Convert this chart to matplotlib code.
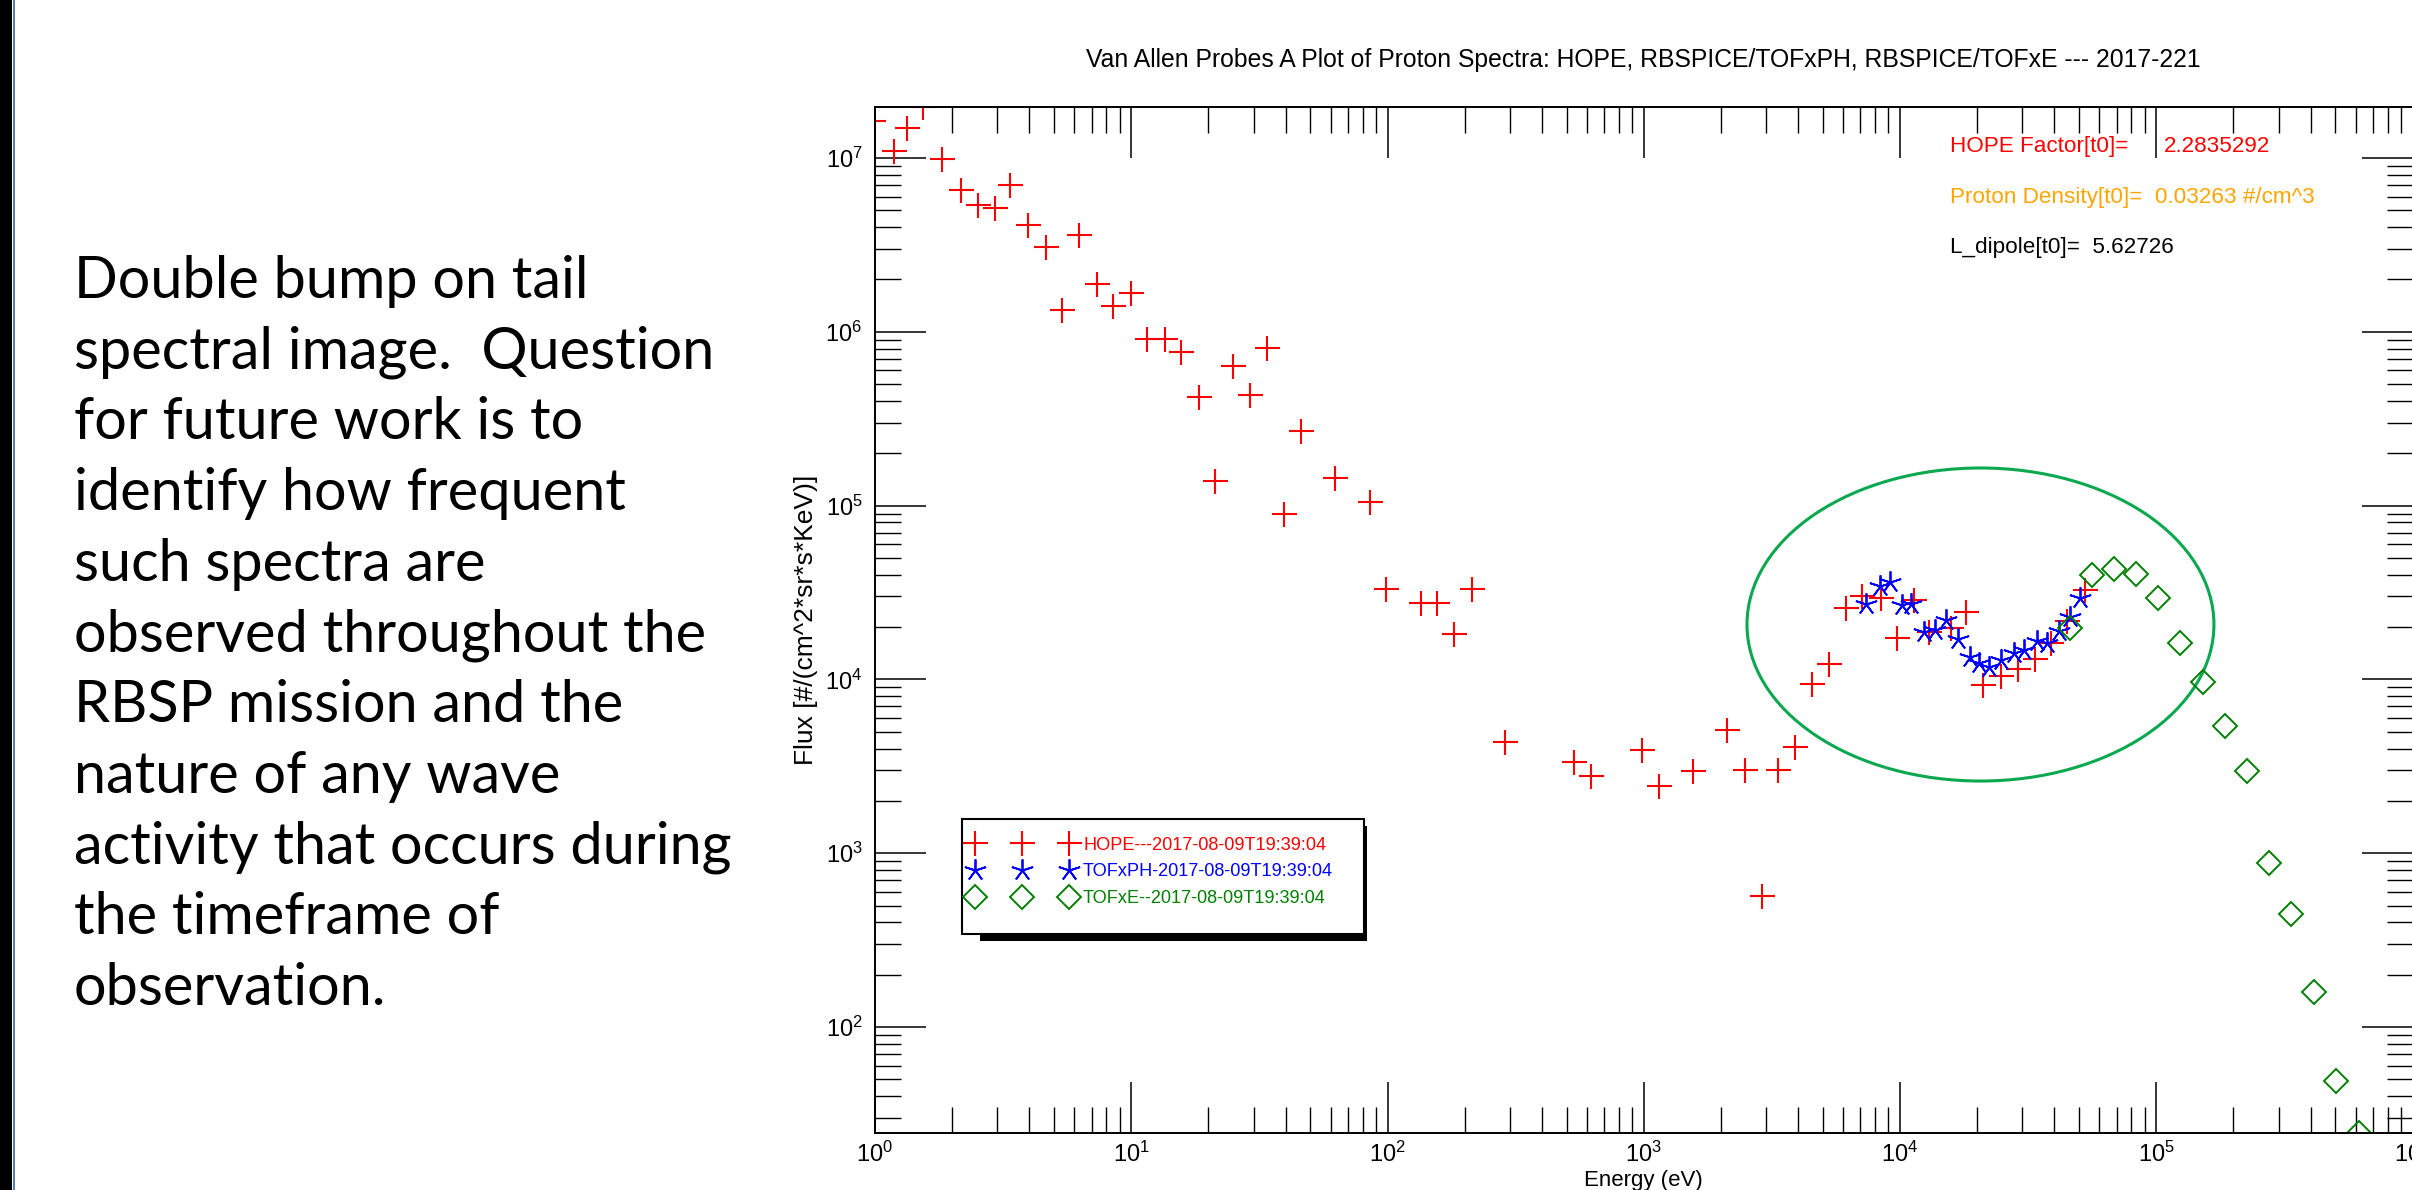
import matplotlib
matplotlib.use("Agg")
import matplotlib.pyplot as plt
from matplotlib.patches import Ellipse, Rectangle

W, H, DPI = 2412, 1190, 100

TITLE = "Van Allen Probes A Plot of Proton Spectra: HOPE, RBSPICE/TOFxPH, RBSPICE/TOFxE --- 2017-221"

# HOPE proton spectrum (eV, flux)
hope_energy = [0.985, 1.19, 1.33, 1.545, 1.82, 2.17, 2.53, 2.94, 3.37, 3.94, 4.64, 5.36,
               6.26, 7.32, 8.50, 9.94, 11.55, 13.49, 15.7, 18.4, 21.3, 24.9, 29.0, 33.8,
               39.4, 46.0, 62.5, 85.1, 98.6, 135, 156, 182, 213, 288, 535, 622, 985,
               1148, 1563, 2116, 2478, 2883, 3353, 3879, 4540, 5281, 6170, 7116, 8452,
               9750, 11290, 13000, 15780, 18070, 21020, 24740, 28770, 33620, 38790,
               44750, 52660]
hope_flux = [1.64e7, 1.10e7, 1.48e7, 1.97e7, 9.83e6, 6.52e6, 5.34e6, 5.14e6, 7.02e6,
             4.12e6, 3.08e6, 1.33e6, 3.60e6, 1.89e6, 1.41e6, 1.67e6, 9.09e5, 9.09e5,
             7.68e5, 4.20e5, 1.385e5, 6.33e5, 4.33e5, 8.04e5, 8.96e4, 2.69e5, 1.45e5,
             1.05e5, 3.30e4, 2.76e4, 2.76e4, 1.82e4, 3.33e4, 4.38e3, 3.33e3, 2.79e3,
             3.94e3, 2.43e3, 2.97e3, 5.13e3, 3.01e3, 567, 3.01e3, 4.10e3, 9.38e3,
             1.23e4, 2.59e4, 3.01e4, 2.94e4, 1.74e4, 2.87e4, 1.88e4, 1.98e4, 2.43e4,
             9.25e3, 1.04e4, 1.15e4, 1.31e4, 1.61e4, 2.16e4, 3.25e4]

# RBSPICE TOFxPH
tofxph_energy = [7360, 8318, 9100, 10200, 11020, 12360, 13690, 15140, 16790, 18740,
                 20330, 22340, 24740, 27730, 30590, 34320, 37500, 41760, 46030, 50580]
tofxph_flux = [2.73e4, 3.45e4, 3.65e4, 2.68e4, 2.73e4, 1.87e4, 1.92e4, 2.20e4, 1.71e4,
               1.35e4, 1.25e4, 1.18e4, 1.30e4, 1.41e4, 1.48e4, 1.66e4, 1.61e4, 1.89e4,
               2.29e4, 2.94e4]

# RBSPICE TOFxE
tofxe_energy = [46030, 56000, 68700, 83600, 102000, 124200, 151700, 185300, 226500,
                276600, 336500, 411200, 502300, 619400]
tofxe_flux = [1.98e4, 3.99e4, 4.30e4, 4.04e4, 2.94e4, 1.63e4, 9.70e3, 5.37e3, 2.98e3,
              883, 448, 159, 48.7, 24.5]

series_labels = ["HOPE---2017-08-09T19:39:04",
                 "TOFxPH-2017-08-09T19:39:04",
                 "TOFxE--2017-08-09T19:39:04"]

info_lines = [("HOPE Factor[t0]=", "2.2835292", "red"),
              ("Proton Density[t0]=  0.03263 #/cm^3", "", "orange"),
              ("L_dipole[t0]=  5.62726", "", "black")]

note_lines = ["Double bump on tail",
              "spectral image.  Question",
              "for future work is to",
              "identify how frequent",
              "such spectra are",
              "observed throughout the",
              "RBSP mission and the",
              "nature of any wave",
              "activity that occurs during",
              "the timeframe of",
              "observation."]


def fx(px):
    return px / W


def fy(py):
    return 1 - py / H


plt.rcParams['font.family'] = ['Liberation Sans', 'DejaVu Sans']
NOTE_FONT = ['Lato', 'DejaVu Sans']

fig = plt.figure(figsize=(W / DPI, H / DPI), dpi=DPI)
renderer = fig.canvas.get_renderer()


def fitted_size(s, target_px, size0=20, **kw):
    t = fig.text(0, 0, s, fontsize=size0, **kw)
    w = t.get_window_extent(renderer=renderer).width
    t.remove()
    return size0 * target_px / w


# slide border on the left
fig.add_artist(Rectangle((0, 0), fx(12), 1, transform=fig.transFigure, fc='black', ec='none'))
fig.add_artist(Rectangle((fx(12.5), 0), fx(2.5), 1, transform=fig.transFigure, fc='#4F81BD', ec='none'))

note_size = fitted_size("activity that occurs during", 660, family=NOTE_FONT)
for i, line in enumerate(note_lines):
    fig.text(fx(74), fy(298 + i * 70.7), line, family=NOTE_FONT,
             fontsize=note_size, va='baseline', ha='left')

ax = fig.add_axes([fx(875), fy(1133), (2412.5 - 875) / W, (1133 - 107) / H])
ax.set_xscale('log')
ax.set_yscale('log')

l1, = ax.plot(hope_energy, hope_flux, ls='none', marker='+', ms=18, mew=1.5, color='red')
l2, = ax.plot(tofxph_energy, tofxph_flux, ls='none', marker=(5, 2, 0), ms=16, mew=1.3, color='blue')
l3, = ax.plot(tofxe_energy, tofxe_flux, ls='none', marker='D', ms=12, mew=1.4,
              mfc='none', mec='green', color='green')

ax.set_xlim(1, 1e6)
ax.set_ylim(10 ** 1.39, 10 ** 7.2934)

ax.tick_params(which='both', direction='in', top=True, right=True, labelsize=17)
ax.tick_params(which='major', length=36.7, width=1.1)
ax.tick_params(which='minor', length=18.7, width=1.0)
ax.tick_params(axis='x', pad=6)
ax.tick_params(axis='y', pad=9)
for sp in ax.spines.values():
    sp.set_linewidth(1.4)

ax.set_title(TITLE, fontsize=fitted_size(TITLE, 1114), pad=29)
ax.set_xlabel("Energy (eV)", fontsize=16)
ax.xaxis.set_label_coords(0.5, -0.036)
ax.set_ylabel("Flux [#/(cm^2*sr*s*KeV)]", fontsize=19)
ax.yaxis.set_label_coords(-0.037, 0.5)

info_size = fitted_size(info_lines[1][0], 363)
for i, (label, value, color) in enumerate(info_lines):
    y = (1133 - (147 + i * 50.5)) / 1026
    ax.text(0.6994, y, label, color=color, fontsize=info_size, va='center', ha='left',
            transform=ax.transAxes)
    if value:
        ax.text(0.838, y, value, color=color, fontsize=info_size, va='center', ha='left',
                transform=ax.transAxes)

# highlight of the double bump
ax.add_patch(Ellipse((0.719, 0.4956), 0.3037, 0.3051, transform=ax.transAxes,
                     fill=False, ec='#0BA84F', lw=2.2, clip_on=False))

# legend box with shadow
fig.add_artist(Rectangle((fx(980), fy(941)), (1367 - 980) / W, (941 - 826) / H,
                         transform=fig.transFigure, fc='black', ec='none', zorder=2))
fig.add_artist(Rectangle((fx(962), fy(934.3)), (1364 - 962) / W, (934.3 - 819.3) / H,
                         transform=fig.transFigure, fc='white', ec='black', lw=1.5, zorder=3))
leg_size = fitted_size(series_labels[0], 245)
leg_px = leg_size * DPI / 72
fig.legend([l1, l2, l3], series_labels, loc='upper left',
           bbox_to_anchor=(fx(969.9), fy(836.7)), frameon=False, numpoints=3,
           handlelength=93.3 / leg_px + 0.6, handletextpad=9 / leg_px, borderpad=0,
           borderaxespad=0, labelspacing=(30 - 1.12 * leg_px) / leg_px,
           fontsize=leg_size, labelcolor='markeredgecolor')

fig.savefig("out.png", dpi=DPI)
